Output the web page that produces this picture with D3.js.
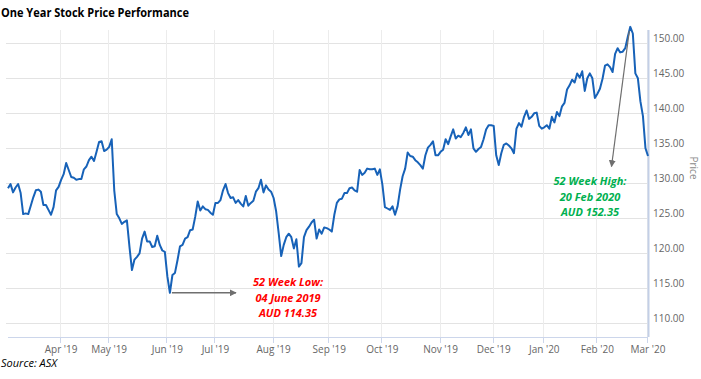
<!DOCTYPE html>
<html>
<head>
<meta charset="utf-8">
<script src="https://cdn.jsdelivr.net/npm/d3@7"></script>
<style>
  body { margin: 0; background: #fff; }
  svg { display: block; }
  .title { font-family: "Open Sans", sans-serif; font-weight: bold; font-size: 12.5px; fill: #000; }
  .source { font-family: "Open Sans", sans-serif; font-style: italic; font-size: 11px; fill: #000; }
  .tick-label { font-family: "Open Sans", sans-serif; font-size: 10px; fill: #666; }
  .note { font-family: "Open Sans", sans-serif; font-style: italic; font-weight: bold; font-size: 11px; }
</style>
</head>
<body>
<svg id="vis" width="701" height="379"></svg>
<script>
// daily close, one value per ASX trading day, Mar 2019 to 2 Mar 2020
var prices = [
  129.3, 129.9, 128.7, 129.4, 129.9, 128.6, 125.6, 125.7, 125.6, 126.8,
  128.0, 129.0, 129.1, 128.8, 126.9, 126.9, 126.2, 125.5, 126.6, 129.0,
  129.5, 130.5, 131.3, 132.9, 131.9, 130.9, 130.8, 130.5, 130.6, 130.6,
  132.0, 132.4, 133.3, 133.8, 133.2, 134.5, 135.9, 136.0, 134.6, 134.8,
  135.2, 136.3, 129.0, 125.6, 125.0, 124.2, 124.5, 124.7, 121.0, 117.6,
  119.1, 119.5, 120.0, 122.1, 123.1, 121.7, 121.7, 120.9, 121.0, 122.5,
  121.2, 120.4, 120.2, 116.7, 114.35, 116.9, 117.2, 119.0, 121.0, 121.2,
  122.1, 122.3, 123.3, 123.4, 125.2, 127.4, 126.1, 126.7, 126.3, 126.2,
  125.8, 125.5, 127.2, 127.2, 127.6, 129.0, 129.9, 128.6, 127.9, 128.0,
  127.2, 127.6, 127.1, 126.7, 128.2, 126.8, 127.2, 127.5, 128.8, 129.3,
  130.5, 128.7, 129.7, 129.1, 128.8, 127.9, 126.0, 122.9, 119.6, 121.2,
  122.3, 122.8, 122.3, 120.7, 122.0, 118.1, 118.6, 122.3, 123.3, 123.8,
  124.4, 124.8, 122.1, 123.4, 122.8, 123.7, 123.6, 123.4, 123.1, 125.5,
  127.2, 127.7, 127.8, 128.6, 128.6, 129.3, 129.4, 129.0, 128.8, 131.9,
  131.2, 131.5, 132.1, 132.0, 132.0, 132.1, 131.2, 132.0, 129.8, 126.6,
  126.4, 126.2, 126.7, 125.5, 126.7, 129.1, 131.0, 132.1, 134.4, 133.9,
  133.8, 133.3, 133.0, 132.6, 132.1, 134.0, 135.1, 135.5, 136.0, 134.0,
  134.0, 134.5, 134.8, 136.3, 135.6, 136.7, 137.7, 136.4, 136.8, 136.6,
  137.2, 138.0, 136.9, 137.7, 135.0, 134.5, 134.9, 135.2, 136.3, 137.7,
  138.3, 138.3, 138.2, 134.0, 132.6, 134.3, 135.5, 135.7, 135.4, 135.0,
  134.3, 137.8, 138.6, 138.1, 139.5, 140.4, 139.2, 139.5, 140.0, 140.1,
  138.2, 137.8, 138.0, 138.3, 137.8, 139.5, 138.7, 140.2, 139.6, 141.0,
  141.5, 143.4, 144.0, 144.8, 144.4, 145.7, 145.1, 146.0, 143.2, 145.0,
  145.7, 145.0, 142.2, 142.8, 143.5, 144.9, 146.8, 147.0, 146.6, 145.9,
  148.5, 149.3, 148.7, 148.8, 149.3, 150.9, 152.35, 151.4, 145.7, 145.0,
  141.7, 139.6, 135.0, 133.9
];

// first trading day of each month (index into prices)
var monthLabels = ["Apr '19", "May '19", "Jun '19", "Jul '19", "Aug '19", "Sep '19",
  "Oct '19", "Nov '19", "Dec '19", "Jan '20", "Feb '20", "Mar '20"];
var monthStart = [21, 40, 63, 82, 105, 127, 148, 171, 192, 212, 233, 253];

var priceTicks = [110, 115, 120, 125, 130, 135, 140, 145, 150];

var lowNote = ["52 Week Low:", "04 June 2019", "AUD 114.35"];
var highNote = ["52 Week High:", "20 Feb 2020", "AUD 152.35"];

var svg = d3.select("#vis");
var plot = { left: 8, right: 648, top: 29, bottom: 337 };

var xScale = d3.scaleLinear()
  .domain([0, prices.length - 1])
  .range([plot.left, plot.right]);

var yScale = d3.scaleLinear()
  .domain([110, 150])
  .range([323.3, 43.3]);

svg.append("defs").append("marker")
  .attr("id", "arrow")
  .attr("viewBox", "0 0 10 10")
  .attr("refX", 9)
  .attr("refY", 5)
  .attr("markerWidth", 7)
  .attr("markerHeight", 7)
  .attr("markerUnits", "userSpaceOnUse")
  .attr("orient", "auto")
  .append("path")
  .attr("d", "M0,0 L10,5 L0,10 z")
  .attr("fill", "#6f6f6f");

// gridlines
svg.append("g")
  .selectAll("line")
  .data(priceTicks)
  .enter()
  .append("line")
  .attr("x1", plot.left - 2)
  .attr("x2", plot.right)
  .attr("y1", d => Math.round(yScale(d)) + 0.5)
  .attr("y2", d => Math.round(yScale(d)) + 0.5)
  .style("stroke", "#e3e3e3")
  .style("stroke-width", "1px");

svg.append("g")
  .selectAll("line")
  .data(monthStart)
  .enter()
  .append("line")
  .attr("x1", d => Math.round(xScale(d)) - 0.5)
  .attr("x2", d => Math.round(xScale(d)) - 0.5)
  .attr("y1", plot.top + 1)
  .attr("y2", plot.bottom)
  .style("stroke", "#ececec")
  .style("stroke-width", "1px");

// x axis
svg.append("line")
  .attr("x1", plot.left)
  .attr("x2", plot.right)
  .attr("y1", plot.bottom + 0.5)
  .attr("y2", plot.bottom + 0.5)
  .style("stroke", "#ccd6eb");

svg.append("g")
  .selectAll("line")
  .data(monthStart)
  .enter()
  .append("line")
  .attr("x1", d => Math.round(xScale(d)) - 0.5)
  .attr("x2", d => Math.round(xScale(d)) - 0.5)
  .attr("y1", plot.bottom)
  .attr("y2", plot.bottom + 6)
  .style("stroke", "#ccd6eb");

svg.append("g")
  .selectAll("text")
  .data(monthStart)
  .enter()
  .append("text")
  .attr("class", "tick-label")
  .attr("x", d => xScale(d))
  .attr("y", plot.bottom + 16)
  .attr("text-anchor", "middle")
  .text((d, i) => monthLabels[i]);

// right axis
svg.append("line")
  .attr("x1", plot.right + 0.5)
  .attr("x2", plot.right + 0.5)
  .attr("y1", plot.top + 1)
  .attr("y2", plot.bottom)
  .style("stroke", "#c3cfe6")
  .style("stroke-width", "2px");

svg.append("g")
  .selectAll("text")
  .data(priceTicks)
  .enter()
  .append("text")
  .attr("class", "tick-label")
  .attr("x", plot.right + 5)
  .attr("y", d => yScale(d) - 1)
  .text(d => d.toFixed(2));

svg.append("text")
  .attr("class", "tick-label")
  .attr("transform", "translate(690," + 168 + ") rotate(90)")
  .attr("text-anchor", "middle")
  .style("fill", "#8a8a8a")
  .text("Price");

// price line
var line = d3.line()
  .x((d, i) => xScale(i))
  .y(d => yScale(d));

svg.append("path")
  .datum(prices)
  .attr("d", line)
  .style("fill", "none")
  .style("stroke", "#1762b8")
  .style("stroke-width", "2px")
  .style("stroke-linejoin", "round");

// annotations
var lowIdx = d3.minIndex(prices);
var highIdx = d3.maxIndex(prices);

svg.append("line")
  .attr("x1", xScale(lowIdx) + 2)
  .attr("y1", yScale(prices[lowIdx]))
  .attr("x2", 236)
  .attr("y2", yScale(prices[lowIdx]))
  .style("stroke", "#6f6f6f")
  .style("stroke-width", "1.5px")
  .attr("marker-end", "url(#arrow)");

svg.append("line")
  .attr("x1", xScale(highIdx) - 1)
  .attr("y1", yScale(prices[highIdx]) + 4)
  .attr("x2", 611.5)
  .attr("y2", 166.5)
  .style("stroke", "#6f6f6f")
  .style("stroke-width", "1.2px")
  .attr("marker-end", "url(#arrow)");

svg.append("g")
  .selectAll("text")
  .data(lowNote)
  .enter()
  .append("text")
  .attr("class", "note")
  .attr("x", 288)
  .attr("y", (d, i) => 286 + i * 15.5)
  .attr("text-anchor", "middle")
  .style("fill", "#ff0000")
  .text(d => d);

svg.append("g")
  .selectAll("text")
  .data(highNote)
  .enter()
  .append("text")
  .attr("class", "note")
  .attr("x", 590)
  .attr("y", (d, i) => 185 + i * 15.5)
  .attr("text-anchor", "middle")
  .style("fill", "#00b050")
  .text(d => d);

// title and source
svg.append("text")
  .attr("class", "title")
  .attr("x", 1)
  .attr("y", 17)
  .attr("textLength", 188)
  .attr("lengthAdjust", "spacingAndGlyphs")
  .text("One Year Stock Price Performance");

svg.append("text")
  .attr("class", "source")
  .attr("x", 1)
  .attr("y", 367)
  .text("Source: ASX");
</script>
</body>
</html>
